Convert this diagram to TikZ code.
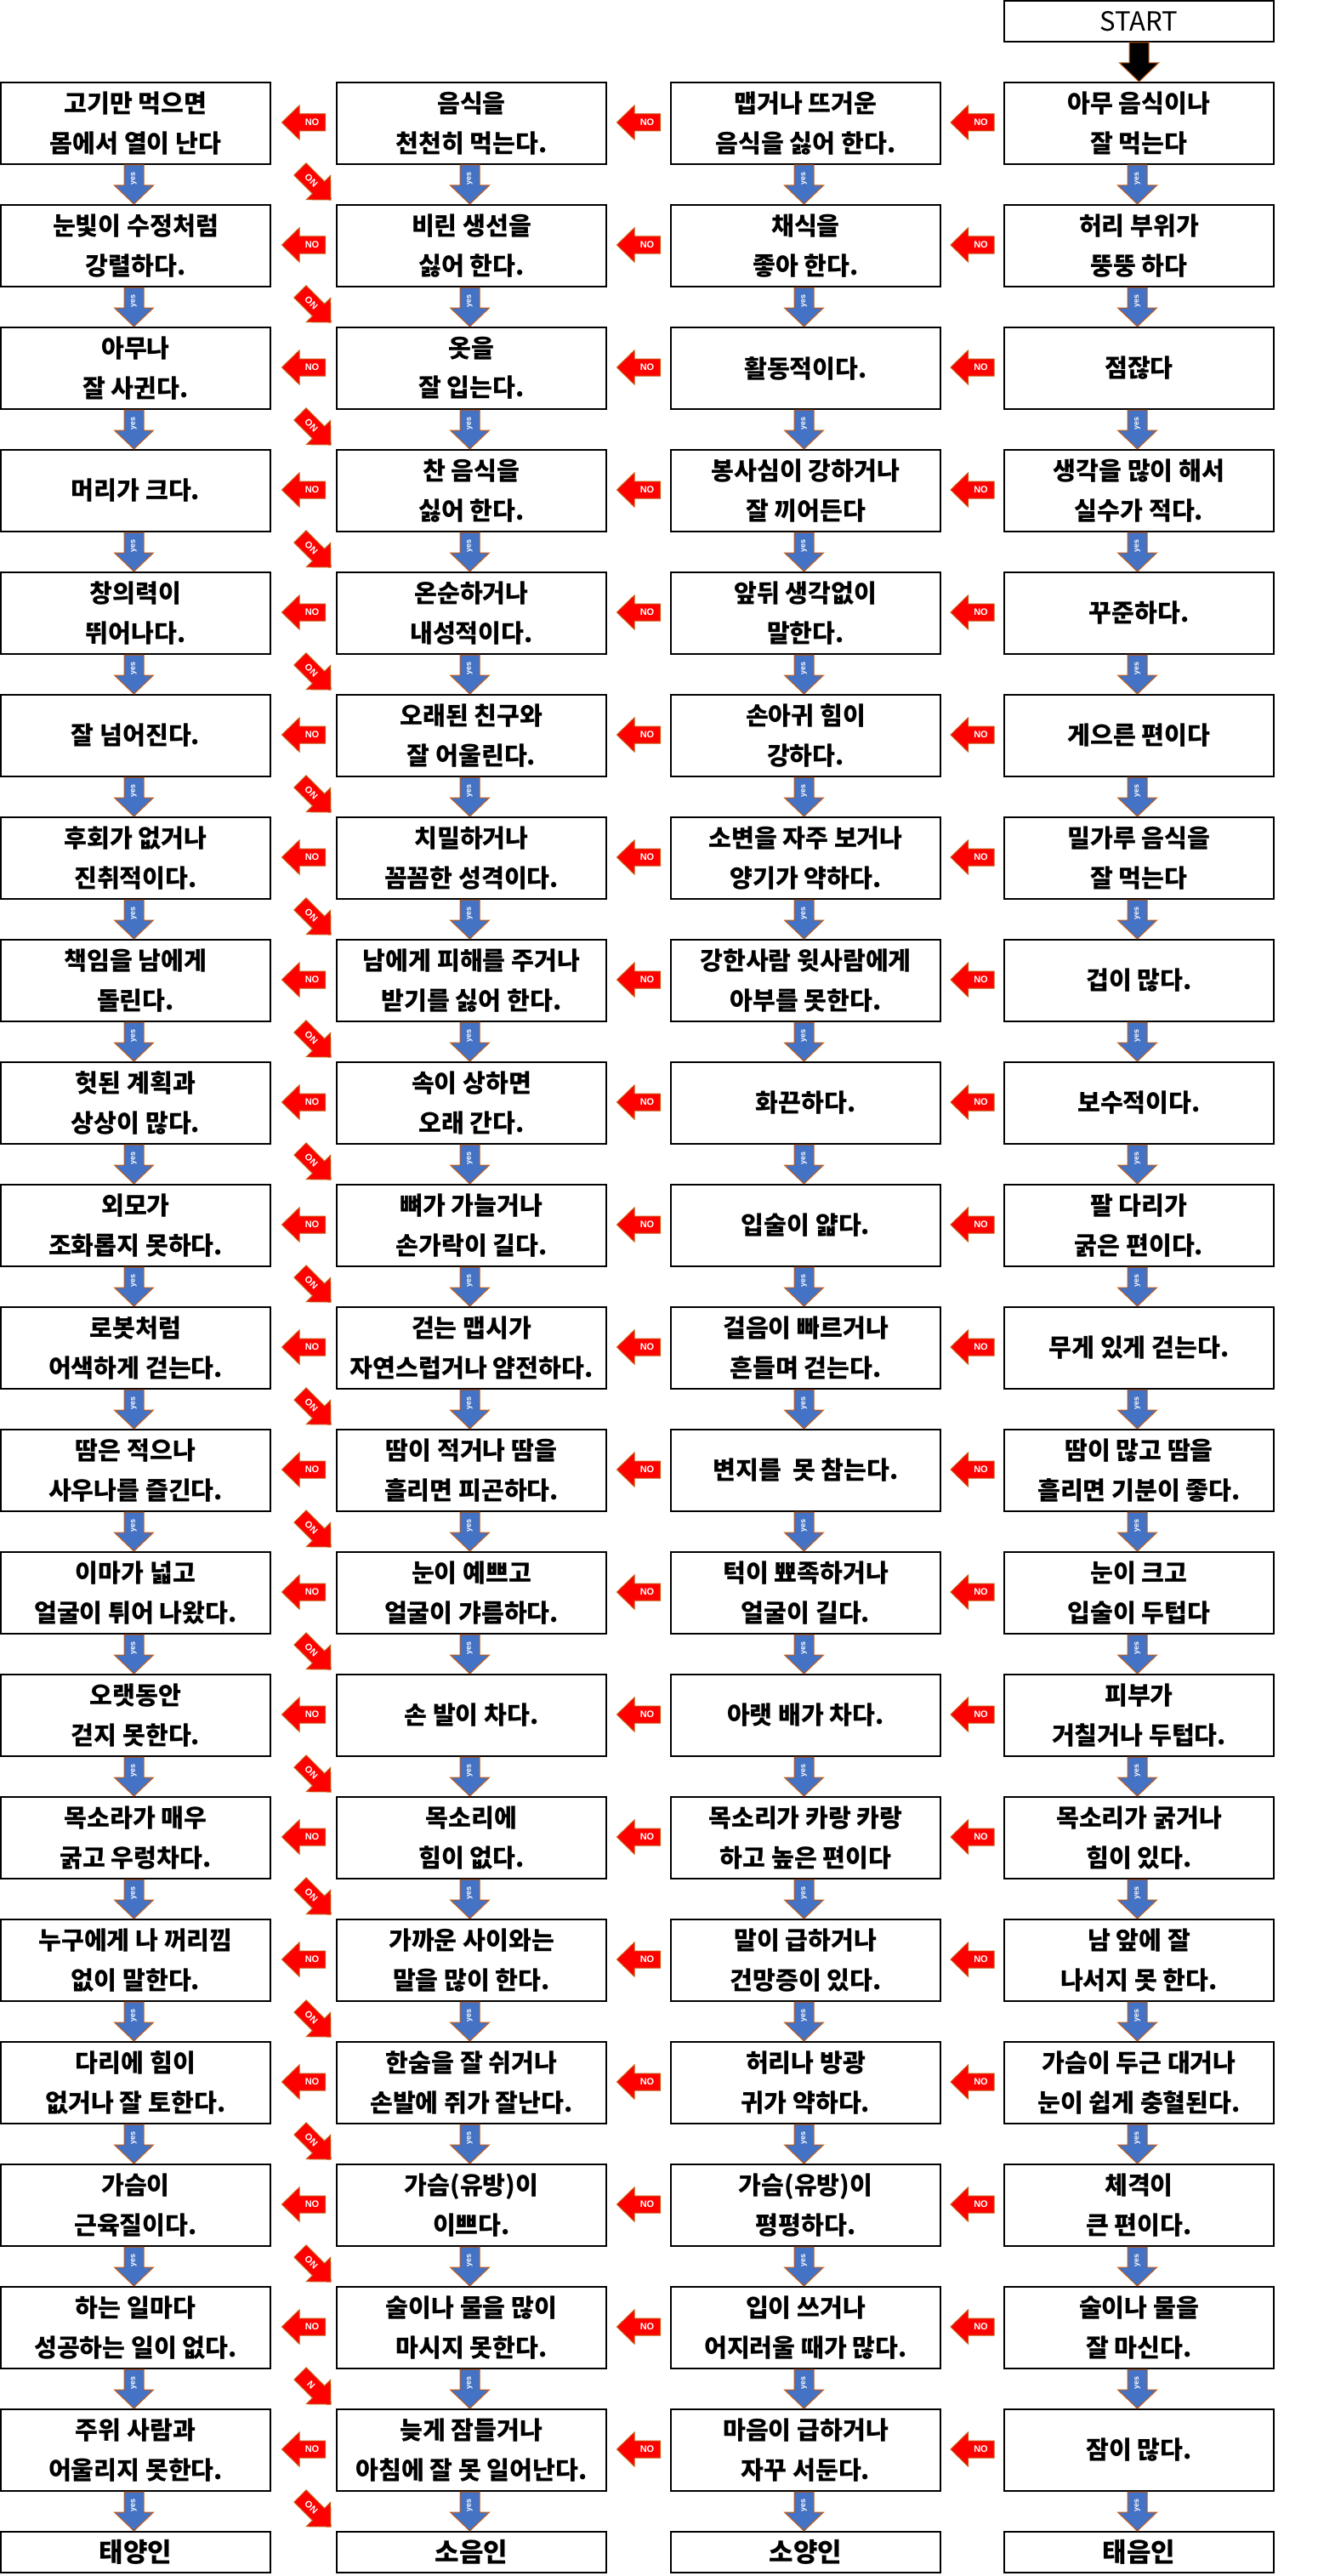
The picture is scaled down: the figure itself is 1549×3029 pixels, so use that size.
\documentclass[tikz,border=0pt]{standalone}
\usepackage{fontspec}
\setmainfont{Noto Sans CJK KR}
\newfontfamily\arialfont{Liberation Sans}
\usetikzlibrary{calc}
\definecolor{noRed}{HTML}{FF0000}
\definecolor{yesBlue}{HTML}{4472C4}
\definecolor{edgeBrown}{HTML}{C55A11}
\tikzset{
  box/.style={draw=black, line width=1.25pt, fill=white, minimum width=158.5pt, minimum height=48pt, inner sep=0pt, align=center, font=\fontsize{14.6}{23.2}\selectfont\bfseries},
  endbox/.style={box, minimum height=24pt, font=\fontsize{15.5}{18}\selectfont\bfseries},
  startbox/.style={box, minimum height=24pt, font=\fontsize{15.5}{18}\selectfont},
  arrowline/.style={draw=edgeBrown, line width=0.5pt},
  yestext/.style={text=white, font=\arialfont\bfseries\fontsize{4.5}{5}\selectfont, inner sep=0pt, rotate=90},
  notext/.style={text=white, font=\arialfont\bfseries\fontsize{5.5}{6}\selectfont, inner sep=0pt},
  yesarr/.pic={
    \path[arrowline, fill=yesBlue] (-11.5,-23) -- (11.5,-23) -- (11.5,1) -- (23,1) -- (0,23) -- (-23,1) -- (-11.5,1) -- cycle;
    \node[yestext] at (0,-7) {yes};
  },
  startarr/.pic={
    \path[arrowline, fill=black] (-11.5,-23) -- (11.5,-23) -- (11.5,1) -- (23,1) -- (0,23) -- (-23,1) -- (-11.5,1) -- cycle;
  },
  noarr/.pic={
    \path[arrowline, fill=noRed] (25.5,-10) -- (-5,-10) -- (-5,-20) -- (-25.5,0) -- (-5,20) -- (-5,10) -- (25.5,10) -- cycle;
    \node[notext] at (10,0) {NO};
  },
}
\begin{document}
\begin{tikzpicture}[x=0.5pt,y=-0.5pt]
\useasboundingbox (0,0) rectangle (1549,3029);
\fill[white] (0,0) rectangle (1549,3029);
% START
\node[startbox] (start) at (1339.5,25) {START};
% Column 1
\node[box] (n1-1) at (159.5,145) {고기만 먹으면\\몸에서 열이 난다};
\node[box] (n1-2) at (159.5,289) {눈빛이 수정처럼\\강렬하다.};
\node[box] (n1-3) at (159.5,433) {아무나\\잘 사귄다.};
\node[box] (n1-4) at (159.5,577) {머리가 크다.};
\node[box] (n1-5) at (159.5,721) {창의력이\\뛰어나다.};
\node[box] (n1-6) at (159.5,865) {잘 넘어진다.};
\node[box] (n1-7) at (159.5,1009) {후회가 없거나\\진취적이다.};
\node[box] (n1-8) at (159.5,1153) {책임을 남에게\\돌린다.};
\node[box] (n1-9) at (159.5,1297) {헛된 계획과\\상상이 많다.};
\node[box] (n1-10) at (159.5,1441) {외모가\\조화롭지 못하다.};
\node[box] (n1-11) at (159.5,1585) {로봇처럼\\어색하게 걷는다.};
\node[box] (n1-12) at (159.5,1729) {땀은 적으나\\사우나를 즐긴다.};
\node[box] (n1-13) at (159.5,1873) {이마가 넓고\\얼굴이 튀어 나왔다.};
\node[box] (n1-14) at (159.5,2017) {오랫동안\\걷지 못한다.};
\node[box] (n1-15) at (159.5,2161) {목소라가 매우\\굵고 우렁차다.};
\node[box] (n1-16) at (159.5,2305) {누구에게 나 꺼리낌\\없이 말한다.};
\node[box] (n1-17) at (159.5,2449) {다리에 힘이\\없거나 잘 토한다.};
\node[box] (n1-18) at (159.5,2593) {가슴이\\근육질이다.};
\node[box] (n1-19) at (159.5,2737) {하는 일마다\\성공하는 일이 없다.};
\node[box] (n1-20) at (159.5,2881) {주위 사람과\\어울리지 못한다.};
\node[endbox] (n1-21) at (159.5,3001) {태양인};
% Column 2
\node[box] (n2-1) at (554.5,145) {음식을\\천천히 먹는다.};
\node[box] (n2-2) at (554.5,289) {비린 생선을\\싫어 한다.};
\node[box] (n2-3) at (554.5,433) {옷을\\잘 입는다.};
\node[box] (n2-4) at (554.5,577) {찬 음식을\\싫어 한다.};
\node[box] (n2-5) at (554.5,721) {온순하거나\\내성적이다.};
\node[box] (n2-6) at (554.5,865) {오래된 친구와\\잘 어울린다.};
\node[box] (n2-7) at (554.5,1009) {치밀하거나\\꼼꼼한 성격이다.};
\node[box] (n2-8) at (554.5,1153) {남에게 피해를 주거나\\받기를 싫어 한다.};
\node[box] (n2-9) at (554.5,1297) {속이 상하면\\오래 간다.};
\node[box] (n2-10) at (554.5,1441) {뼈가 가늘거나\\손가락이 길다.};
\node[box] (n2-11) at (554.5,1585) {걷는 맵시가\\자연스럽거나 얌전하다.};
\node[box] (n2-12) at (554.5,1729) {땀이 적거나 땀을\\흘리면 피곤하다.};
\node[box] (n2-13) at (554.5,1873) {눈이 예쁘고\\얼굴이 갸름하다.};
\node[box] (n2-14) at (554.5,2017) {손 발이 차다.};
\node[box] (n2-15) at (554.5,2161) {목소리에\\힘이 없다.};
\node[box] (n2-16) at (554.5,2305) {가까운 사이와는\\말을 많이 한다.};
\node[box] (n2-17) at (554.5,2449) {한숨을 잘 쉬거나\\손발에 쥐가 잘난다.};
\node[box] (n2-18) at (554.5,2593) {가슴(유방)이\\이쁘다.};
\node[box] (n2-19) at (554.5,2737) {술이나 물을 많이\\마시지 못한다.};
\node[box] (n2-20) at (554.5,2881) {늦게 잠들거나\\아침에 잘 못 일어난다.};
\node[endbox] (n2-21) at (554.5,3001) {소음인};
% Column 3
\node[box] (n3-1) at (947.5,145) {맵거나 뜨거운\\음식을 싫어 한다.};
\node[box] (n3-2) at (947.5,289) {채식을\\좋아 한다.};
\node[box] (n3-3) at (947.5,433) {활동적이다.};
\node[box] (n3-4) at (947.5,577) {봉사심이 강하거나\\잘 끼어든다};
\node[box] (n3-5) at (947.5,721) {앞뒤 생각없이\\말한다.};
\node[box] (n3-6) at (947.5,865) {손아귀 힘이\\강하다.};
\node[box] (n3-7) at (947.5,1009) {소변을 자주 보거나\\양기가 약하다.};
\node[box] (n3-8) at (947.5,1153) {강한사람 윗사람에게\\아부를 못한다.};
\node[box] (n3-9) at (947.5,1297) {화끈하다.};
\node[box] (n3-10) at (947.5,1441) {입술이 얇다.};
\node[box] (n3-11) at (947.5,1585) {걸음이 빠르거나\\흔들며 걷는다.};
\node[box] (n3-12) at (947.5,1729) {변지를~ 못 참는다.};
\node[box] (n3-13) at (947.5,1873) {턱이 뾰족하거나\\얼굴이 길다.};
\node[box] (n3-14) at (947.5,2017) {아랫 배가 차다.};
\node[box] (n3-15) at (947.5,2161) {목소리가 카랑 카랑\\하고 높은 편이다};
\node[box] (n3-16) at (947.5,2305) {말이 급하거나\\건망증이 있다.};
\node[box] (n3-17) at (947.5,2449) {허리나 방광\\귀가 약하다.};
\node[box] (n3-18) at (947.5,2593) {가슴(유방)이\\평평하다.};
\node[box] (n3-19) at (947.5,2737) {입이 쓰거나\\어지러울 때가 많다.};
\node[box] (n3-20) at (947.5,2881) {마음이 급하거나\\자꾸 서둔다.};
\node[endbox] (n3-21) at (947.5,3001) {소양인};
% Column 4
\node[box] (n4-1) at (1339.5,145) {아무 음식이나\\잘 먹는다};
\node[box] (n4-2) at (1339.5,289) {허리 부위가\\뚱뚱 하다};
\node[box] (n4-3) at (1339.5,433) {점잖다};
\node[box] (n4-4) at (1339.5,577) {생각을 많이 해서\\실수가 적다.};
\node[box] (n4-5) at (1339.5,721) {꾸준하다.};
\node[box] (n4-6) at (1339.5,865) {게으른 편이다};
\node[box] (n4-7) at (1339.5,1009) {밀가루 음식을\\잘 먹는다};
\node[box] (n4-8) at (1339.5,1153) {겁이 많다.};
\node[box] (n4-9) at (1339.5,1297) {보수적이다.};
\node[box] (n4-10) at (1339.5,1441) {팔 다리가\\굵은 편이다.};
\node[box] (n4-11) at (1339.5,1585) {무게 있게 걷는다.};
\node[box] (n4-12) at (1339.5,1729) {땀이 많고 땀을\\흘리면 기분이 좋다.};
\node[box] (n4-13) at (1339.5,1873) {눈이 크고\\입술이 두텁다};
\node[box] (n4-14) at (1339.5,2017) {피부가\\거칠거나 두텁다.};
\node[box] (n4-15) at (1339.5,2161) {목소리가 굵거나\\힘이 있다.};
\node[box] (n4-16) at (1339.5,2305) {남 앞에 잘\\나서지 못 한다.};
\node[box] (n4-17) at (1339.5,2449) {가슴이 두근 대거나\\눈이 쉽게 충혈된다.};
\node[box] (n4-18) at (1339.5,2593) {체격이\\큰 편이다.};
\node[box] (n4-19) at (1339.5,2737) {술이나 물을\\잘 마신다.};
\node[box] (n4-20) at (1339.5,2881) {잠이 많다.};
\node[endbox] (n4-21) at (1339.5,3001) {태음인};
% start arrow
\pic at ($(start.south)!0.5!(n4-1.north)$) {startarr};
% yes arrows
\foreach \c in {1,2,3,4}{
  \foreach \r [evaluate=\r as \s using int(\r+1)] in {1,...,20}{
    \pic at ($(n\c-\r.south)!0.5!(n\c-\s.north)+(-2,0)$) {yesarr};
  }
}
% NO arrows
\foreach \c/\d in {1/2,2/3,3/4}{
  \foreach \r in {1,...,20}{
    \pic at ($(n\c-\r.east)!0.5!(n\d-\r.west)+(0,-1)$) {noarr};
  }
}
% diagonal NO arrows
\foreach \r [evaluate=\r as \s using int(\r+1)] in {1,...,20}{
  \coordinate (dg\r) at ($(n1-\r.south east)!0.5!(n2-\s.north west)+(14,0)$);
  \begin{scope}[shift={(dg\r)}]
    \path[arrowline, fill=noRed, rotate=135] (25.5,-10) -- (-5,-10) -- (-5,-20) -- (-25.5,0) -- (-5,20) -- (-5,10) -- (25.5,10) -- cycle;
    \node[notext, rotate=135] at (-5,-5) {\ifnum\r=19 N\else NO\fi};
  \end{scope}
}
\end{tikzpicture}
\end{document}
